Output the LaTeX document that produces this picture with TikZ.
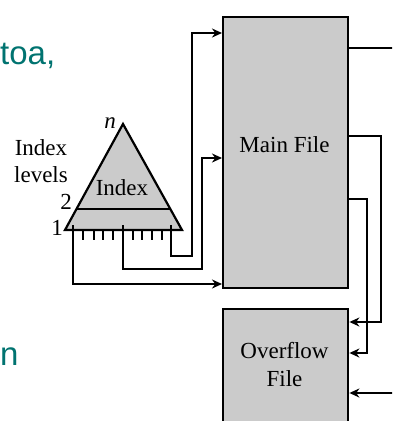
\documentclass[tikz,border=0pt]{standalone}
\usepackage{fontspec}
\setmainfont{Liberation Serif}
\newfontfamily\slidefont{Liberation Sans}
\usetikzlibrary{arrows.meta}
\definecolor{slideteal}{HTML}{007370}
\definecolor{filegray}{HTML}{CBCBCB}
\tikzset{
  filebox/.style={draw=black, line width=2.4pt, fill=filegray},
  wire/.style={draw=black, line width=2.1pt},
  arrowwire/.style={wire, -{Stealth[length=10pt, width=9pt]}},
  serif/.style={font=\fontsize{23}{25}\selectfont, inner sep=0pt},
  teal/.style={font=\slidefont\fontsize{33}{35}\selectfont, text=slideteal, inner sep=0pt}
}
\begin{document}
\begin{tikzpicture}[x=1pt, y=-1pt]
\clip (0,0) rectangle (392,421);
\fill[white] (0,0) rectangle (392,421);

% slide text fragments
\node[teal, anchor=base west] (t1) at (0,64) {toa,};
\node[teal, anchor=base west] (t2) at (0,365) {n};

% files
\node[filebox, minimum width=125pt, minimum height=271pt, anchor=north west] (main) at (222,16) {};
\node[serif] (mainlbl) at (284.5,145) {Main File};
\node[filebox, minimum width=125pt, minimum height=130pt, anchor=north west] (over) at (222,308) {};
\node[serif, align=center] (overlbl) at (284.5,365) {Overflow\\[3pt]File};

% index triangle
\coordinate (apex) at (123,124);
\coordinate (bl) at (65,230);
\coordinate (br) at (182,230);
\fill[filegray] (apex) -- (bl) -- (br) -- cycle;
\draw[line width=2.2pt, line join=miter] (apex) -- (bl) -- (br) -- cycle;
\coordinate (l2a) at (76,209);
\coordinate (l2b) at (170,209);
\draw[line width=2pt] (l2a) -- (l2b);
\node[serif] (idx) at (122,188) {Index};
\node[serif, font=\fontsize{23}{25}\selectfont\itshape] (n) at (110,123) {n};
\node[serif] (two) at (66,202) {2};
\node[serif] (one) at (57,228) {1};
\node[serif, align=center] (levels) at (41,161) {Index\\[2pt]levels};

% entries of the lowest level
\foreach \x in {83,94,103,113,133,142,152,162}
  \draw[line width=1.6pt] (\x,230) -- (\x,240);

% pointers from the index into the main file
\coordinate (p1) at (73,225);
\coordinate (p2) at (123,225);
\coordinate (p3) at (171,225);
\draw[arrowwire] (p1) -- (73,284) -- (main.west |- 0,284);
\draw[arrowwire] (p2) -- (123,269) -- (202,269) -- (202,158) -- (main.west |- 0,158);
\draw[arrowwire] (p3) -- (171,256) -- (192,256) -- (192,33) -- (main.west |- 0,33);

% links out of the main file
\coordinate (out1) at (400,48);
\coordinate (in4) at (400,393);
\draw[wire] (main.east |- 0,48) -- (out1);
\draw[arrowwire] (main.east |- 0,136) -- (381,136) -- (381,322) -- (over.east |- 0,322);
\draw[arrowwire] (main.east |- 0,199) -- (367,199) -- (367,353) -- (over.east |- 0,353);
\draw[arrowwire] (in4) -- (over.east |- 0,393);
\end{tikzpicture}
\end{document}
